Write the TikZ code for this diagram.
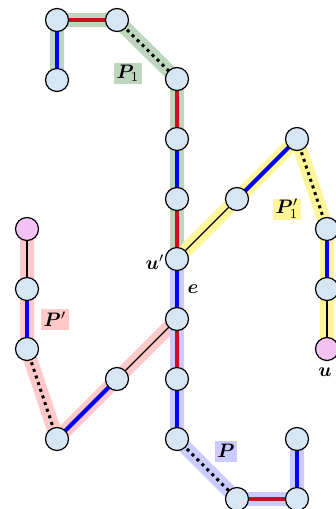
\documentclass[tikz,border=0pt]{standalone}
\usepackage{graphicx}
\usepackage{amsmath,bm}
\definecolor{nodefill}{HTML}{D6E6F5}
\definecolor{pinknode}{HTML}{F2C2F2}
\definecolor{hlgreen}{HTML}{BDD6BD}
\definecolor{hlyellow}{HTML}{FFF59A}
\definecolor{hlpink}{HTML}{FFC9C9}
\definecolor{hlblue}{HTML}{CBCBFF}
\definecolor{ered}{HTML}{C8101E}
\definecolor{eblue}{HTML}{0000FF}
\newcommand{\biglab}[1]{\scalebox{1.95}{$#1$}}
\tikzset{
  vtx/.style={circle,draw=black,line width=1.2pt,fill=nodefill,minimum size=23pt,inner sep=0pt},
  pvtx/.style={vtx,fill=pinknode},
  hl/.style={line width=14pt},
  redge/.style={ered,line width=4pt},
  bedge/.style={eblue,line width=4pt},
  kedge/.style={black,line width=1.2pt},
  dedge/.style={black,line width=3pt,dash pattern=on 3pt off 4pt},
  lab/.style={inner sep=1pt},
  boxlab/.style={inner xsep=2.5pt,inner ysep=0pt,minimum height=21pt},
}
\begin{document}
\begin{tikzpicture}[x=1pt,y=-1pt]
\useasboundingbox (0,0) rectangle (336,509);
% coordinates
\coordinate (a0) at (57,80);
\coordinate (a1) at (57,20);
\coordinate (a2) at (117,20);
\coordinate (c1) at (177,79);
\coordinate (c2) at (177,139);
\coordinate (c3) at (177,199);
\coordinate (up) at (177,259);
\coordinate (c5) at (177,319);
\coordinate (c6) at (177,379);
\coordinate (c7) at (177,439);
\coordinate (b1) at (237,499);
\coordinate (b2) at (297,499);
\coordinate (b3) at (297,439);
\coordinate (r1) at (237,199);
\coordinate (r2) at (297,139);
\coordinate (r3) at (327,229);
\coordinate (r4) at (327,289);
\coordinate (u) at (327,349);
\coordinate (l1) at (27,229);
\coordinate (l2) at (27,289);
\coordinate (l3) at (27,349);
\coordinate (l4) at (57,439);
\coordinate (l5) at (117,379);
% highlights
\draw[hl,hlgreen,line join=round] (a0)--(a1)--(a2)--(c1)--(up);
\draw[hl,hlyellow,line join=round] (up)--(r1)--(r2)--(r3)--(u);
\draw[hl,hlpink,line join=round] (l1)--(l2)--(l3)--(l4)--(l5)--(c5);
\draw[hl,hlblue,line join=round] (up)--(c7)--(b1)--(b2)--(b3);
% edges
\draw[bedge] (a0)--(a1);
\draw[redge] (a1)--(a2);
\draw[dedge] (a2)--(c1);
\draw[redge] (c1)--(c2);
\draw[bedge] (c2)--(c3);
\draw[redge] (c3)--(up);
\draw[kedge] (up)--(r1);
\draw[bedge] (r1)--(r2);
\draw[dedge] (r2)--(r3);
\draw[bedge] (r3)--(r4);
\draw[kedge] (r4)--(u);
\draw[kedge] (l1)--(l2);
\draw[bedge] (l2)--(l3);
\draw[dedge] (l3)--(l4);
\draw[bedge] (l4)--(l5);
\draw[kedge] (l5)--(c5);
\draw[bedge] (up)--(c5);
\draw[redge] (c5)--(c6);
\draw[bedge] (c6)--(c7);
\draw[dedge] (c7)--(b1);
\draw[redge] (b1)--(b2);
\draw[bedge] (b2)--(b3);
% nodes
\foreach \p in {a0,a1,a2,c1,c2,c3,up,c5,c6,c7,b1,b2,b3,r1,r2,r3,r4,l2,l3,l4,l5}
  \node[vtx] (n\p) at (\p) {};
\node[pvtx] (nu) at (u) {};
\node[pvtx] (nl1) at (l1) {};
% labels
\node[boxlab,fill=hlgreen] (lP1) at (128,73.5) {\biglab{\bm{P}_1}};
\node[boxlab,fill=hlyellow] (lP1p) at (287,209) {\biglab{\bm{P}'_1}};
\node[boxlab,fill=hlpink] (lPp) at (55,319) {\biglab{\bm{P}'}};
\node[boxlab,fill=hlblue] (lP) at (226,451) {\biglab{\bm{P}}};
\node[lab] (lup) at (155,262) {\biglab{\bm{u}'}};
\node[lab] (le) at (193,289) {\biglab{\bm{e}}};
\node[lab] (lu) at (325,372) {\biglab{\bm{u}}};
\end{tikzpicture}
\end{document}
